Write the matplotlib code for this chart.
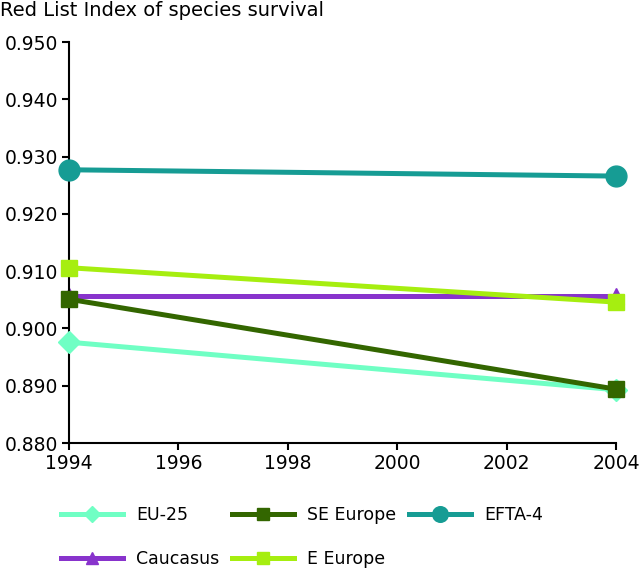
import matplotlib
matplotlib.use("Agg")
import matplotlib.pyplot as plt

years = [1994, 2004]
eu25 = [0.8976, 0.8893]
se_europe = [0.9051, 0.8894]
efta4 = [0.9277, 0.9266]
caucasus = [0.9057, 0.9057]
e_europe = [0.9106, 0.9046]

FS = 13.5
LFS = 12.5
plt.rcParams['font.family'] = ['DejaVu Sans']
fig = plt.figure(figsize=(6.4, 5.72), dpi=100)
ax = fig.add_axes([0.108, 0.2255, 0.8545, 0.701])

lw = 3.6
l1, = ax.plot(years, eu25, color='#70FFC4', lw=lw, marker='D', ms=11, label='EU-25', zorder=3)
l2, = ax.plot(years, se_europe, color='#336600', lw=lw, marker='s', ms=12, label='SE Europe', zorder=5)
l3, = ax.plot(years, efta4, color='#169C94', lw=lw, marker='o', ms=15, label='EFTA-4', zorder=3)
l4, = ax.plot(years, caucasus, color='#8833CC', lw=lw, marker='^', ms=12, label='Caucasus', zorder=2)
l5, = ax.plot(years, e_europe, color='#A6EE10', lw=lw, marker='s', ms=12, label='E Europe', zorder=4)

ax.set_xlim(1994, 2004)
ax.set_ylim(0.880, 0.950)
ax.set_xticks([1994, 1996, 1998, 2000, 2002, 2004])
ax.set_yticks([0.880, 0.890, 0.900, 0.910, 0.920, 0.930, 0.940, 0.950])
ax.set_yticklabels([f"{v:.3f}" for v in ax.get_yticks()])
for s in ['top', 'right']:
    ax.spines[s].set_visible(False)
for s in ['left', 'bottom']:
    ax.spines[s].set_linewidth(1.5)
ax.tick_params(direction='out', length=5, width=1.5, labelsize=FS, pad=3)
for ln in ax.lines:
    ln.set_clip_on(False)

fig.text(0.0, 0.998, 'Red List Index of species survival', fontsize=14, ha='left', va='top')

fig.legend(handles=[l1, l4, l2, l5, l3], loc='center left', bbox_to_anchor=(0.096, 0.0612),
           ncol=3, frameon=False, fontsize=LFS, handlelength=3.55, handletextpad=0.75,
           columnspacing=0.75, labelspacing=1.45, markerscale=0.75, borderpad=0,
           borderaxespad=0)

fig.savefig('out.png', dpi=100)
